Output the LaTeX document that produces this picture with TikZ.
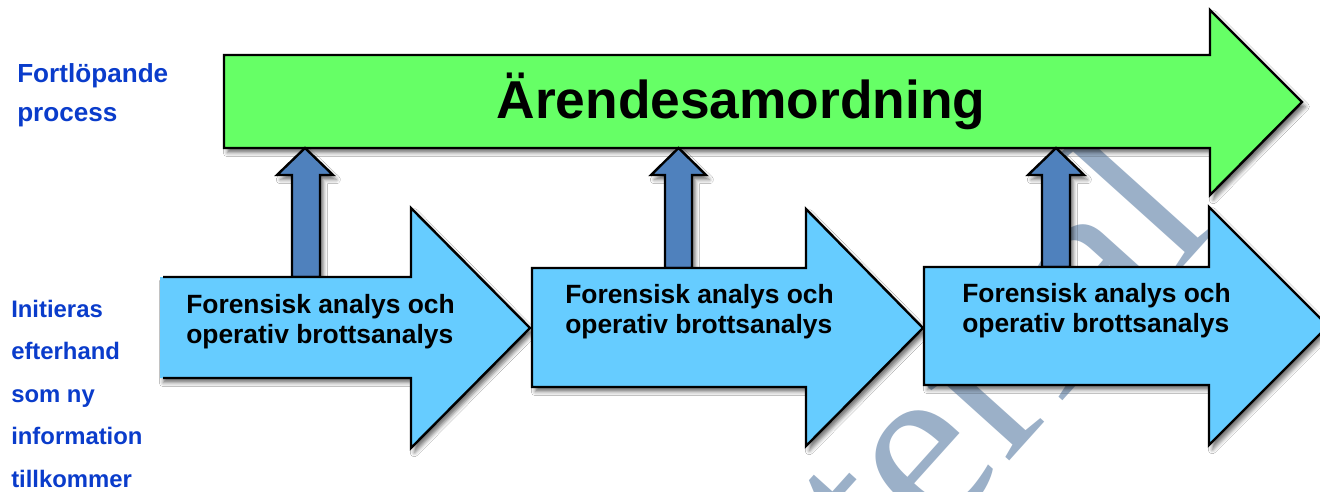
\documentclass[tikz,border=0pt]{standalone}
\usepackage{fontspec}
\setmainfont{Liberation Sans}
\newfontfamily\wmfont{Liberation Serif}
\usetikzlibrary{shadows.blur}
\definecolor{greenfill}{HTML}{66FF66}
\definecolor{lblue}{HTML}{66CCFF}
\definecolor{dblue}{HTML}{4F81BD}
\definecolor{labelblue}{HTML}{0A3CCB}
\definecolor{wm}{HTML}{9BB0C8}
\tikzset{
  shad/.style={blur shadow={shadow xshift=2.5pt, shadow yshift=-3.5pt, shadow blur radius=3pt, shadow opacity=55}},
  outline/.style={draw=black, line width=1.8pt, line join=miter},
  boxtext/.style={font=\fontsize{19.8}{22.5}\selectfont\bfseries, anchor=base west, inner sep=0pt, text=black},
  sidetext/.style={font=\fontsize{19.6}{22}\selectfont\bfseries, anchor=base west, inner sep=0pt, text=labelblue},
  sidetextsmall/.style={font=\fontsize{17.9}{20}\selectfont\bfseries, anchor=base west, inner sep=0pt, text=labelblue},
}
\begin{document}
\begin{tikzpicture}[x=0.75pt,y=-0.75pt]
\useasboundingbox (0,0) rectangle (1320,492);
\clip (0,0) rectangle (1320,492);
\fill[white] (0,0) rectangle (1320,492);

% watermark
\node[font=\wmfont\fontsize{180}{180}\selectfont, text=wm, rotate=48, anchor=base west, inner sep=0pt] (wmark) at (694,811) {material};

% green process arrow
\path[fill=greenfill, outline, shad] (224,55) -- (1210,55) -- (1210,10) -- (1302,102) -- (1210,195) -- (1210,148) -- (224,148) -- cycle;
\node[font=\fontsize{40}{48}\selectfont\bfseries, anchor=base, inner sep=0pt] (title) at (741,118) {Ärendesamordning};

% up arrows
\path[fill=dblue, outline, shad] (292,277) -- (292,175) -- (277,175) -- (305,148) -- (333,175) -- (320,175) -- (320,277) -- cycle;
\path[fill=dblue, outline, shad] (665,268) -- (665,175) -- (651,175) -- (678.5,148) -- (706,175) -- (692,175) -- (692,268) -- cycle;
\path[fill=dblue, outline, shad] (1042,267) -- (1042,175) -- (1028,175) -- (1056,148) -- (1084,175) -- (1070,175) -- (1070,267) -- cycle;

% blue step arrows
\fill[lblue, shad] (160,277) -- (411,277) -- (411,208) -- (530,328) -- (411,448) -- (411,378) -- (160,378) -- cycle;
\draw[outline] (163,277) -- (411,277) -- (411,208) -- (530,328) -- (411,448) -- (411,378) -- (163,378);
\path[fill=lblue, outline, shad] (532,268) -- (806,268) -- (806,209) -- (923,328) -- (806,446) -- (806,387) -- (532,387) -- cycle;
\path[fill=lblue, outline, shad] (924,267) -- (1209,267) -- (1209,207) -- (1328,326) -- (1209,445) -- (1209,385) -- (924,385) -- cycle;

\node[boxtext] (a1l1) at (186,313) {Forensisk analys och};
\node[boxtext] (a1l2) at (186,343) {operativ brottsanalys};
\node[boxtext] (a2l1) at (565,303) {Forensisk analys och};
\node[boxtext] (a2l2) at (565,333) {operativ brottsanalys};
\node[boxtext] (a3l1) at (962,302) {Forensisk analys och};
\node[boxtext] (a3l2) at (962,332) {operativ brottsanalys};

% side labels
\node[sidetext] (s1) at (17,83) {Fortlöpande};
\node[sidetext] (s2) at (17,121.5) {process};
\node[sidetextsmall] (t1) at (11,317) {Initieras};
\node[sidetextsmall] (t2) at (11,359.5) {efterhand};
\node[sidetextsmall] (t3) at (11,402) {som ny};
\node[sidetextsmall] (t4) at (11,444.5) {information};
\node[sidetextsmall] (t5) at (11,487) {tillkommer};
\end{tikzpicture}
\end{document}
